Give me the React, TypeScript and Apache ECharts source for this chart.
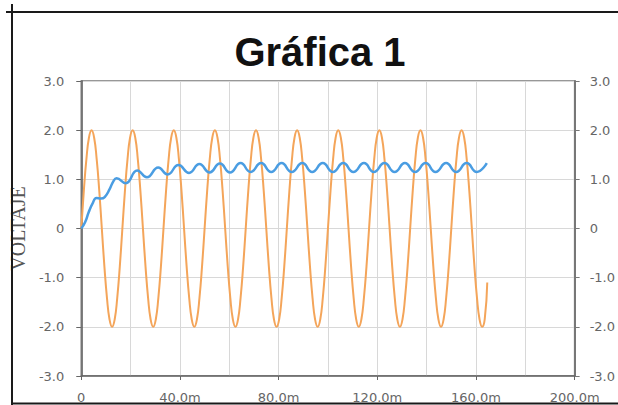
import React, { useEffect, useRef } from "react";
import * as echarts from "echarts";

// Time axis in milliseconds, voltage axis in volts.
const X_TICKS_MS = [0, 40, 80, 120, 160, 200];
const Y_TICKS = [-3, -2, -1, 0, 1, 2, 3];

// AC source, sampled 16 times per 16.67 ms cycle.
const SOURCE_STEP_MS = 1.04167;
const sourceVolts = [
  0, 0.77, 1.41, 1.85, 2, 1.85, 1.41, 0.77, 0, -0.77, -1.41, -1.85, -2, -1.85, -1.41, -0.77,
  0, 0.77, 1.41, 1.85, 2, 1.85, 1.41, 0.77, 0, -0.77, -1.41, -1.85, -2, -1.85, -1.41, -0.77,
  0, 0.77, 1.41, 1.85, 2, 1.85, 1.41, 0.77, 0, -0.77, -1.41, -1.85, -2, -1.85, -1.41, -0.77,
  0, 0.77, 1.41, 1.85, 2, 1.85, 1.41, 0.77, 0, -0.77, -1.41, -1.85, -2, -1.85, -1.41, -0.77,
  0, 0.77, 1.41, 1.85, 2, 1.85, 1.41, 0.77, 0, -0.77, -1.41, -1.85, -2, -1.85, -1.41, -0.77,
  0, 0.77, 1.41, 1.85, 2, 1.85, 1.41, 0.77, 0, -0.77, -1.41, -1.85, -2, -1.85, -1.41, -0.77,
  0, 0.77, 1.41, 1.85, 2, 1.85, 1.41, 0.77, 0, -0.77, -1.41, -1.85, -2, -1.85, -1.41, -0.77,
  0, 0.77, 1.41, 1.85, 2, 1.85, 1.41, 0.77, 0, -0.77, -1.41, -1.85, -2, -1.85, -1.41, -0.77,
  0, 0.77, 1.41, 1.85, 2, 1.85, 1.41, 0.77, 0, -0.77, -1.41, -1.85, -2, -1.85, -1.41, -0.77,
  0, 0.77, 1.41, 1.85, 2, 1.85, 1.41, 0.77, 0, -0.77, -1.41, -1.85, -2, -1.85, -1.1,
];

// Filtered output: charging ramp, then ripple at twice the source frequency.
const outputTimeMs = [
  0, 1.5, 3.0, 4.5, 6.2, 8.0, 9.5, 11.5, 13.0, 14.3, 18.0, 22.7, 26.6, 31.2, 35.0, 39.4,
  43.7, 47.9, 52.0, 56.2, 60.3, 64.6, 68.6, 72.9, 77.0, 81.2, 85.3, 89.6, 93.6, 97.9,
  102.0, 106.2, 110.3, 114.6, 118.6, 122.9, 127.0, 131.2, 135.3, 139.6, 143.6, 147.9,
  152.0, 156.2, 160.3, 164.4,
];
const outputVolts = [
  0, 0.12, 0.33, 0.5, 0.62, 0.61, 0.64, 0.8, 0.96, 1.02, 0.92, 1.18, 1.04, 1.24, 1.1, 1.29,
  1.13, 1.31, 1.14, 1.32, 1.14, 1.33, 1.15, 1.33, 1.15, 1.33, 1.15, 1.33, 1.15, 1.33,
  1.15, 1.33, 1.15, 1.33, 1.15, 1.33, 1.15, 1.33, 1.15, 1.33, 1.15, 1.33,
  1.15, 1.33, 1.15, 1.33,
];

const sourceData = sourceVolts.map((v, i) => [i * SOURCE_STEP_MS, v]);
const outputData = outputTimeMs.map((t, i) => [t, outputVolts[i]]);

const fmtX = (v: number) => (v === 0 ? "0" : `${v.toFixed(1)}m`);
const fmtY = (v: number) => (v === 0 ? "0" : v.toFixed(1));

export default function App() {
  const ref = useRef<HTMLDivElement>(null);

  useEffect(() => {
    if (!ref.current) return;
    const chart = echarts.init(ref.current, null, { renderer: "svg" });
    const labelStyle = {
      color: "#666",
      fontSize: 13,
      fontFamily: "DejaVu Sans, Verdana, sans-serif",
    };
    const yBase = {
      type: "value" as const,
      min: Y_TICKS[0],
      max: Y_TICKS[Y_TICKS.length - 1],
      interval: 1,
    };
    chart.setOption({
      animation: false,
      backgroundColor: "#ffffff",
      grid: {
        left: 80,
        right: 36,
        top: 81,
        bottom: 29,
        show: true,
        borderColor: "#777",
        borderWidth: 1.5,
        containLabel: false,
      },
      xAxis: {
        type: "value",
        min: X_TICKS_MS[0],
        max: X_TICKS_MS[X_TICKS_MS.length - 1],
        interval: 40,
        axisLine: { show: true, onZero: false, lineStyle: { color: "#666", width: 1.5 } },
        axisTick: { show: true, length: 4, lineStyle: { color: "#666" } },
        axisLabel: { ...labelStyle, margin: 15, formatter: fmtX },
        splitLine: { show: true, lineStyle: { color: "#d8d8d8", width: 1 } },
        minorTick: { show: false, splitNumber: 2 },
        minorSplitLine: { show: true, lineStyle: { color: "#d8d8d8", width: 1 } },
      },
      yAxis: [
        {
          ...yBase,
          position: "left",
          name: "VOLTAJE",
          nameLocation: "middle",
          nameRotate: 90,
          nameGap: 51,
          nameTextStyle: {
            color: "#555",
            fontSize: 20,
            fontFamily: "Liberation Serif, DejaVu Serif, serif",
          },
          axisLine: { show: true, onZero: false, lineStyle: { color: "#555", width: 1.5 } },
          axisTick: { show: true, length: 5, lineStyle: { color: "#666" } },
          axisLabel: { ...labelStyle, margin: 17, formatter: fmtY },
          splitLine: { show: true, lineStyle: { color: "#d8d8d8", width: 1 } },
        },
        {
          ...yBase,
          position: "right",
          axisLine: { show: true, onZero: false, lineStyle: { color: "#777", width: 2 } },
          axisTick: { show: true, length: 5, lineStyle: { color: "#777" } },
          axisLabel: { ...labelStyle, margin: 15, formatter: fmtY },
          splitLine: { show: false },
        },
      ],
      series: [
        {
          type: "line",
          data: sourceData,
          showSymbol: false,
          smooth: true,
          lineStyle: { color: "#f4a55a", width: 2 },
          z: 2,
        },
        {
          type: "line",
          data: outputData,
          showSymbol: false,
          smooth: true,
          lineStyle: { color: "#4a9de2", width: 2.5 },
          z: 3,
        },
      ],
      graphic: [
        {
          type: "text",
          x: 320,
          y: 52,
          z: 10,
          style: {
            text: "Gráfica 1",
            fill: "#111",
            fontSize: 40,
            fontWeight: "bold",
            fontFamily: "Liberation Sans, Arial, sans-serif",
            align: "center",
            verticalAlign: "middle",
          },
        },
        {
          type: "line",
          z: 20,
          shape: { x1: 6, y1: 12, x2: 618, y2: 12 },
          style: { stroke: "#1a1a1a", lineWidth: 2 },
        },
        {
          type: "line",
          z: 20,
          shape: { x1: 12, y1: 4, x2: 12, y2: 405 },
          style: { stroke: "#1a1a1a", lineWidth: 2 },
        },
        {
          type: "line",
          z: 20,
          shape: { x1: 12, y1: 403.5, x2: 618, y2: 403.5 },
          style: { stroke: "#1a1a1a", lineWidth: 2 },
        },
        {
          type: "rect",
          z: 19,
          shape: { x: 12, y: 404, width: 606, height: 2 },
          style: { fill: "#ffffff" },
        },
      ],
    });
    return () => chart.dispose();
  }, []);

  return (
    <div
      ref={ref}
      style={{ position: "fixed", left: 0, top: 0, width: 618, height: 405, background: "#fff" }}
    />
  );
}
